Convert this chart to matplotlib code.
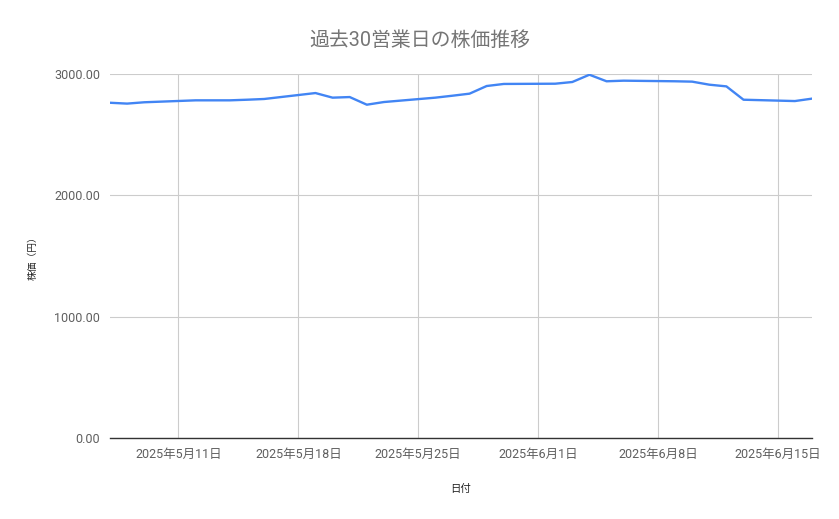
import matplotlib
matplotlib.use("Agg")
import matplotlib.pyplot as plt
import pandas as pd

plt.rcParams['font.family'] = ['Roboto', 'Noto Sans CJK JP', 'DejaVu Sans']

# 30 business days
dates = pd.to_datetime([
    "2025-05-07", "2025-05-08", "2025-05-09",
    "2025-05-12", "2025-05-13", "2025-05-14", "2025-05-15", "2025-05-16",
    "2025-05-19", "2025-05-20", "2025-05-21", "2025-05-22", "2025-05-23",
    "2025-05-26", "2025-05-27", "2025-05-28", "2025-05-29", "2025-05-30",
    "2025-06-02", "2025-06-03", "2025-06-04", "2025-06-05", "2025-06-06",
    "2025-06-09", "2025-06-10", "2025-06-11", "2025-06-12", "2025-06-13",
    "2025-06-16", "2025-06-17",
])
prices = [
    2763, 2756, 2767,
    2783, 2783, 2783, 2788, 2794,
    2843, 2805, 2810, 2747, 2769,
    2805, 2821, 2838, 2901, 2918,
    2920, 2934, 2994, 2940, 2945,
    2940, 2937, 2912, 2898, 2788,
    2777, 2797,
]
week_ticks = pd.to_datetime(["2025-05-11", "2025-05-18", "2025-05-25",
                             "2025-06-01", "2025-06-08", "2025-06-15"])
week_labels = ["2025年5月11日", "2025年5月18日", "2025年5月25日",
               "2025年6月1日", "2025年6月8日", "2025年6月15日"]
y_ticks = [0, 1000, 2000, 3000]

fig = plt.figure(figsize=(8.39, 5.19), dpi=100)
ax = fig.add_axes([110 / 839, 81 / 519, 702 / 839, 364 / 519])

ax.plot(dates, prices, color="#4285F4", linewidth=1.7, zorder=3)

ax.set_xlim(dates[0], dates[-1])
ax.set_ylim(0, 3000)

ax.set_xticks(week_ticks)
ax.set_xticklabels(week_labels)
ax.set_yticks(y_ticks)
ax.set_yticklabels(["%.2f" % v for v in y_ticks])

ax.grid(True, color="#cccccc", linewidth=0.8, zorder=0)
ax.tick_params(axis="both", length=0, colors="#5f5f5f", labelsize=9)
ax.tick_params(axis="x", pad=7)
ax.tick_params(axis="y", pad=7)

for s in ["left", "right", "top"]:
    ax.spines[s].set_visible(False)
ax.spines["bottom"].set_color("#333333")
ax.spines["bottom"].set_linewidth(1.0)
ax.spines["bottom"].set_zorder(4)

ax.set_xlabel("日付", fontsize=7.5, color="#222222", labelpad=17,
              family=['Noto Sans CJK JP', 'DejaVu Sans'])
ax.set_ylabel("株価（円）", fontsize=7, color="#222222", labelpad=12,
              family=['Noto Sans CJK JP', 'DejaVu Sans'])

fig.text(0.5, 1 - 40 / 519, "過去30営業日の株価推移", ha="center", va="center",
         fontsize=14.3, color="#757575")

fig.savefig("out.png", dpi=100)
